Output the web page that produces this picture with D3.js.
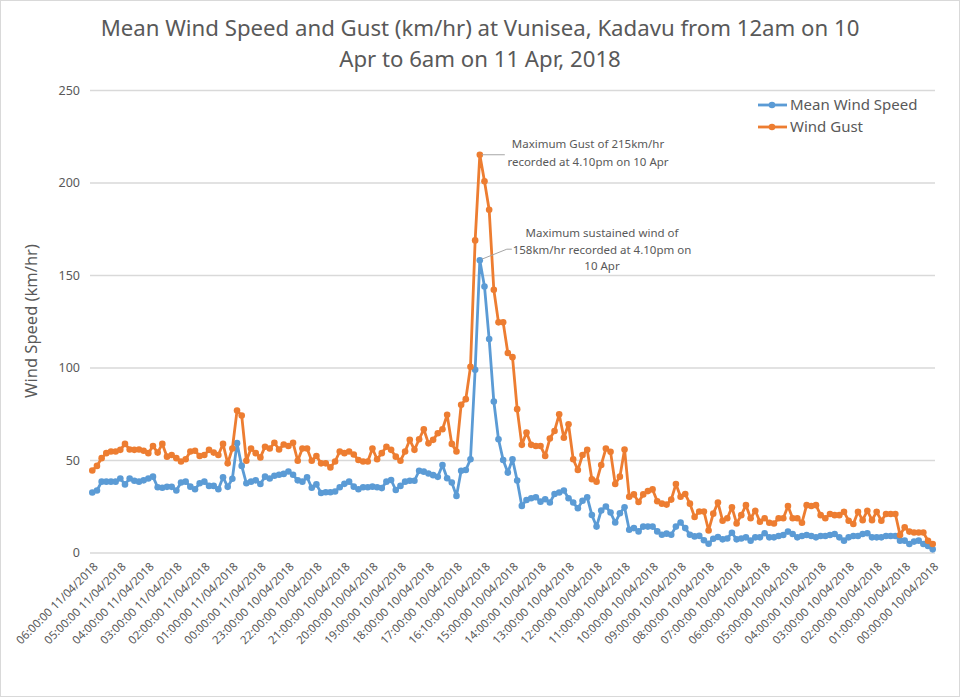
<!DOCTYPE html>
<html>
<head>
<meta charset="utf-8">
<script src="https://cdn.jsdelivr.net/npm/d3@7"></script>
<style>
  html, body { margin: 0; padding: 0; background: #fff; }
  svg { display: block; }
  text { font-family: "Noto Sans", "Open Sans", sans-serif; fill: #595959; }
</style>
</head>
<body>
<svg id="chart" width="960" height="697"></svg>
<script>
// ---------------- DATA ----------------
const titleLines = [
  "Mean Wind Speed and Gust (km/hr) at Vunisea, Kadavu from 12am on 10",
  "Apr to 6am on 11 Apr, 2018"
];
const yAxisTitle = "Wind Speed (km/hr)";
const seriesNames = ["Mean Wind Speed", "Wind Gust"];

// 10-minute records, from 06:00 11/04/2018 (left) back to 00:00 10/04/2018 (right)
const meanWind = [
  32.4, 33.5, 38.3, 38.3, 38.3, 38.3, 40.0, 36.8, 40.0, 38.8,
  38.3, 39.0, 40.0, 41.0, 35.3, 35.0, 35.5, 35.5, 33.5, 37.8,
  38.3, 35.6, 34.2, 37.4, 38.3, 36.0, 36.0, 34.2, 40.7, 35.5,
  39.9, 59.1, 46.8, 37.4, 38.3, 39.0, 37.0, 41.0, 40.0, 41.5,
  42.0, 42.5, 43.8, 42.0, 39.0, 38.3, 40.7, 35.0, 36.8, 32.2,
  32.6, 32.6, 33.0, 35.3, 37.1, 38.3, 35.6, 34.2, 35.3, 35.3,
  35.6, 35.3, 34.8, 38.3, 39.2, 33.8, 36.0, 38.3, 38.8, 38.8,
  44.2, 43.7, 42.7, 41.8, 40.9, 47.3, 40.1, 37.8, 30.6, 44.2,
  44.6, 50.4, 98.8, 158.0, 143.8, 115.4, 81.6, 61.2, 50.0, 43.2,
  50.4, 38.9, 25.2, 28.4, 29.3, 29.9, 27.5, 28.8, 27.0, 31.6,
  32.4, 33.5, 29.3, 27.0, 23.9, 28.0, 29.9, 20.3, 14.0, 22.7,
  24.9, 21.6, 16.2, 21.2, 24.5, 12.3, 13.2, 11.4, 14.0, 14.0,
  14.0, 11.4, 9.6, 10.2, 9.6, 14.0, 16.2, 13.2, 9.6, 8.7,
  9.0, 6.6, 4.7, 7.4, 8.4, 7.1, 7.6, 10.7, 7.1, 7.6,
  8.2, 6.4, 8.2, 8.2, 10.4, 8.2, 8.2, 8.9, 9.5, 11.3,
  10.0, 8.2, 8.9, 9.5, 8.9, 8.2, 8.9, 8.9, 9.5, 10.0,
  8.2, 6.4, 8.2, 8.9, 8.9, 10.0, 10.4, 8.2, 8.2, 8.2,
  8.9, 8.9, 8.9, 6.4, 6.4, 4.6, 5.9, 6.4, 4.6, 3.5,
  1.7
];
const windGust = [
  44.3, 46.8, 51.0, 53.7, 54.6, 54.6, 55.5, 58.7, 55.7, 55.5,
  55.7, 55.0, 53.7, 57.6, 54.0, 58.7, 51.8, 52.7, 51.0, 49.2,
  50.4, 54.6, 55.0, 52.2, 52.7, 55.5, 54.0, 52.7, 58.7, 48.2,
  56.2, 76.7, 74.0, 49.6, 56.2, 53.7, 51.4, 57.2, 56.2, 59.3,
  55.7, 58.4, 57.6, 59.3, 49.6, 56.2, 56.2, 49.6, 52.2, 48.2,
  48.2, 46.0, 49.2, 54.6, 53.7, 54.6, 53.0, 50.0, 49.2, 49.2,
  56.2, 50.4, 53.7, 57.2, 55.5, 51.8, 49.6, 54.6, 60.9, 55.5,
  61.2, 66.6, 59.0, 60.9, 64.5, 66.6, 74.4, 58.7, 54.6, 79.8,
  82.9, 100.4, 168.7, 215.0, 200.7, 185.3, 142.0, 124.4, 124.4, 107.8,
  105.6, 77.5, 58.2, 64.8, 58.2, 57.6, 57.6, 52.2, 61.6, 65.7,
  74.7, 62.0, 69.3, 50.4, 44.6, 52.7, 55.5, 39.6, 38.3, 47.3,
  56.2, 54.4, 37.0, 41.0, 55.7, 30.1, 31.4, 27.3, 31.4, 33.2,
  34.1, 27.7, 26.4, 25.9, 28.6, 37.0, 30.1, 31.6, 26.4, 19.2,
  22.2, 22.2, 11.9, 21.0, 27.0, 17.2, 18.5, 24.4, 15.7, 20.2,
  25.6, 18.5, 22.6, 16.6, 18.5, 16.1, 15.7, 18.5, 18.5, 25.1,
  18.5, 18.5, 16.1, 25.6, 25.1, 25.6, 20.2, 18.5, 20.8, 20.2,
  20.2, 22.0, 17.2, 15.4, 22.0, 17.5, 22.6, 17.5, 22.0, 17.2,
  20.8, 20.8, 20.8, 9.5, 13.6, 11.3, 10.8, 10.8, 10.8, 6.3,
  4.6
];
// one label every 6 records
const tickLabels = [
  "06:00:00 11/04/2018", "05:00:00 11/04/2018", "04:00:00 11/04/2018",
  "03:00:00 11/04/2018", "02:00:00 11/04/2018", "01:00:00 11/04/2018",
  "00:00:00 11/04/2018", "23:00:00 10/04/2018", "22:00:00 10/04/2018",
  "21:00:00 10/04/2018", "20:00:00 10/04/2018", "19:00:00 10/04/2018",
  "18:00:00 10/04/2018", "17:00:00 10/04/2018", "16:10:00 10/04/2018",
  "15:00:00 10/04/2018", "14:00:00 10/04/2018", "13:00:00 10/04/2018",
  "12:00:00 10/04/2018", "11:00:00 10/04/2018", "10:00:00 10/04/2018",
  "09:00:00 10/04/2018", "08:00:00 10/04/2018", "07:00:00 10/04/2018",
  "06:00:00 10/04/2018", "05:00:00 10/04/2018", "04:00:00 10/04/2018",
  "03:00:00 10/04/2018", "02:00:00 10/04/2018", "01:00:00 10/04/2018",
  "00:00:00 10/04/2018"
];
const tickEvery = 6;
const yTicks = [0, 50, 100, 150, 200, 250];
const gustNote = ["Maximum Gust of 215km/hr", "recorded at 4.10pm on 10 Apr"];
const windNote = ["Maximum sustained wind of", "158km/hr recorded at 4.10pm on", "10 Apr"];

// ---------------- STYLE ----------------
const colors = ["#5b9bd5", "#ed7d31"];
const gridColor = "#d9d9d9";

// ---------------- CHART ----------------
const svg = d3.select("#chart");
const W = 960, H = 697;

svg.append("rect").attr("x", 0.5).attr("y", 0.5).attr("width", W - 1).attr("height", H - 1)
  .attr("fill", "#fff").attr("stroke", gridColor);

const N = meanWind.length;
const x = d3.scalePoint().domain(d3.range(N)).range([92.3, 932.7]);
const y = d3.scaleLinear().domain([0, 250]).range([552.5, 90]);

// Title
svg.append("g").selectAll("text").data(titleLines).join("text")
  .attr("x", 480).attr("y", (d, i) => 36 + i * 31)
  .attr("text-anchor", "middle")
  .style("font-size", "22.2px")
  .text(d => d);

// Gridlines + y axis
const yAxis = d3.axisLeft(y).tickValues(yTicks).tickSize(-(935 - 90)).tickPadding(10);
const gy = svg.append("g").attr("transform", "translate(90,0)").call(yAxis);
gy.select(".domain").remove();
gy.selectAll(".tick line").attr("stroke", gridColor).attr("stroke-width", 1.3);
gy.selectAll(".tick text").style("font-size", "12.5px").style("font-family", "'Noto Sans', sans-serif").attr("fill", "#595959");

// x axis
const xAxis = d3.axisBottom(x)
  .tickValues(d3.range(0, N, tickEvery))
  .tickFormat(i => tickLabels[i / tickEvery])
  .tickSize(0);
const gx = svg.append("g").attr("transform", "translate(0,552.5)").call(xAxis);
gx.select(".domain").remove();
gx.selectAll(".tick text")
  .style("font-size", "11.5px").style("font-family", "'Noto Sans', sans-serif").attr("fill", "#595959")
  .attr("text-anchor", "end")
  .attr("y", 0).attr("dy", "0.35em")
  .attr("transform", "translate(3,12) rotate(-45)");

// y axis title
svg.append("text")
  .attr("transform", "translate(37,321) rotate(-90)")
  .attr("text-anchor", "middle")
  .style("font-size", "16.5px")
  .text(yAxisTitle);

// series
const series = [meanWind, windGust];
const line = d3.line().x((d, i) => x(i)).y(d => y(d));
series.forEach((vals, s) => {
  const g = svg.append("g");
  g.append("path").datum(vals)
    .attr("fill", "none").attr("stroke", colors[s]).attr("stroke-width", 2.8)
    .attr("stroke-linejoin", "round").attr("stroke-linecap", "round")
    .attr("d", line);
  g.selectAll("circle").data(vals).join("circle")
    .attr("cx", (d, i) => x(i)).attr("cy", d => y(d)).attr("r", 3.3)
    .attr("fill", colors[s]);
});

// annotations
const gi = d3.maxIndex(windGust);
const wi = d3.maxIndex(meanWind);
const gx0 = x(gi), gy0 = y(windGust[gi]);
svg.append("line").attr("x1", gx0 + 2).attr("y1", gy0).attr("x2", gx0 + 25).attr("y2", gy0)
  .attr("stroke", "#a6a6a6").attr("stroke-width", 1);
svg.append("g").selectAll("text").data(gustNote).join("text")
  .attr("x", 588).attr("y", (d, i) => gy0 - 7 + i * 18)
  .attr("text-anchor", "middle").style("font-size", "11.5px").text(d => d);

const wx0 = x(wi), wy0 = y(meanWind[wi]);
svg.append("polyline")
  .attr("points", `${wx0 + 2},${wy0 - 1} ${wx0 + 27},${wy0 - 11} ${wx0 + 32},${wy0 - 11}`)
  .attr("fill", "none").attr("stroke", "#a6a6a6").attr("stroke-width", 1);
svg.append("g").selectAll("text").data(windNote).join("text")
  .attr("x", 602).attr("y", (d, i) => wy0 - 23 + i * 16.5)
  .attr("text-anchor", "middle").style("font-size", "11.5px").text(d => d);

// legend
const leg = svg.append("g");
seriesNames.forEach((name, s) => {
  const ly = 105 + s * 22;
  leg.append("line").attr("x1", 758).attr("x2", 787).attr("y1", ly).attr("y2", ly)
    .attr("stroke", colors[s]).attr("stroke-width", 2.8);
  leg.append("circle").attr("cx", 772).attr("cy", ly).attr("r", 3.3).attr("fill", colors[s]);
  leg.append("text").attr("x", 790).attr("y", ly).attr("dy", "0.35em")
    .style("font-size", "15px").text(name);
});
</script>
</body>
</html>
